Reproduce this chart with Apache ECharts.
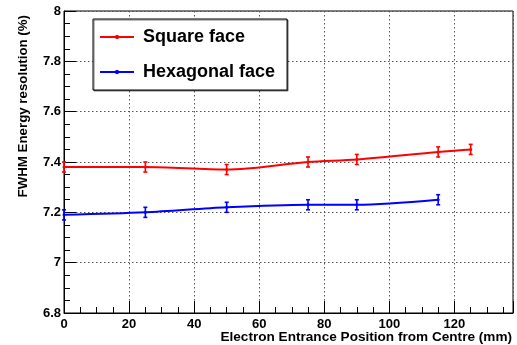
<!DOCTYPE html>
<html><head><meta charset="utf-8">
<script src="https://cdn.jsdelivr.net/npm/echarts@6/dist/echarts.min.js"></script>
<style>html,body{margin:0;padding:0;background:#fff}#c{width:517px;height:345px}</style>
</head><body><div id="c"></div>
<script>
var positions = [0, 25, 50, 75, 90, 115, 125];
var squareVals = [7.38, 7.38, 7.37, 7.40, 7.41, 7.44, 7.45];
var squareErr = [0.02, 0.02, 0.02, 0.02, 0.02, 0.02, 0.02];
var hexPositions = [0, 25, 50, 75, 90, 115];
var hexVals = [7.19, 7.20, 7.22, 7.23, 7.23, 7.25];
var hexErr = [0.02, 0.02, 0.02, 0.02, 0.02, 0.02];
var seriesNames = ['Square face', 'Hexagonal face'];
var xTitle = 'Electron Entrance Position from Centre (mm)';
var yTitle = 'FWHM Energy resolution (%)';

var font = 'Liberation Sans, Arial, Helvetica, sans-serif';
function pairs(xs, ys){ return xs.map(function(x,i){ return [x, ys[i]]; }); }
function errData(xs, ys, es){ return xs.map(function(x,i){ return [x, ys[i]-es[i], ys[i]+es[i]]; }); }
function errSeries(data, color){
  return {
    type: 'custom', data: data, silent: true, z: 4,
    renderItem: function(params, api){
      var lo = api.coord([api.value(0), api.value(1)]);
      var hi = api.coord([api.value(0), api.value(2)]);
      var w = 2;
      var st = {stroke: color, lineWidth: 1.6};
      return {type: 'group', children: [
        {type:'line', shape:{x1:lo[0],y1:lo[1],x2:hi[0],y2:hi[1]}, style: st},
        {type:'line', shape:{x1:lo[0]-w,y1:lo[1],x2:lo[0]+w,y2:lo[1]}, style: st},
        {type:'line', shape:{x1:hi[0]-w,y1:hi[1],x2:hi[0]+w,y2:hi[1]}, style: st}
      ]};
    },
    encode: {x: 0, y: [1, 2]}
  };
}
var legendIcon = 'path://M0,1.1 L34,1.1 L34,2.9 L0,2.9 Z M15.5,0 L18.5,0 L18.5,4 L15.5,4 Z';
var chart = echarts.init(document.getElementById('c'));
var gridSplit = {show: true, lineStyle: {color: '#555', type: [1.5, 2.5], width: 1}};
chart.setOption({
  animation: false,
  grid: {left: 64, right: 4, top: 11, bottom: 32, show: true, borderColor: '#000', borderWidth: 1, backgroundColor: 'transparent'},
  legend: {
    left: 93, top: 19, orient: 'vertical',
    data: [{name: seriesNames[0], icon: legendIcon}, {name: seriesNames[1], icon: legendIcon}],
    borderColor: '#000', borderWidth: 1, padding: [8, 12, 8, 7],
    itemWidth: 34, itemHeight: 4, itemGap: 15,
    textStyle: {fontFamily: font, fontWeight: 'bold', fontSize: 18, color: '#000', padding: [0,0,0,4], lineHeight: 20},
    backgroundColor: '#fff',
    shadowColor: 'rgba(0,0,0,0.5)', shadowOffsetX: 1, shadowOffsetY: 1, shadowBlur: 0
  },
  xAxis: [{
    type: 'value', min: 0, max: 138, interval: 5,
    axisLine: {show: true, lineStyle: {color: '#000'}},
    axisTick: {show: true, inside: true, length: 6, lineStyle: {color: '#000'}},
    axisLabel: {fontFamily: font, fontWeight: 'bold', fontSize: 13, color: '#000', margin: 5,
      formatter: function(v){ return (v % 20 === 0) ? String(v) : ''; }, showMaxLabel: false},
    splitLine: {show: false}
  }, {
    type: 'value', min: 0, max: 138, interval: 20, position: 'bottom',
    axisLine: {show: false},
    axisTick: {show: true, inside: true, length: 12, lineStyle: {color: '#000'}},
    axisLabel: {show: false},
    splitLine: gridSplit
  }],
  yAxis: {
    type: 'value', min: 6.8, max: 8, interval: 0.2,
    axisLine: {show: true, lineStyle: {color: '#000'}},
    axisTick: {show: true, inside: true, length: 12, lineStyle: {color: '#000'}},
    minorTick: {show: true, splitNumber: 4, length: 6, lineStyle: {color: '#000'}},
    axisLabel: {fontFamily: font, fontWeight: 'bold', fontSize: 13, color: '#000', margin: 3,
      formatter: function(v){ return String(Math.round(v*10)/10); }},
    splitLine: gridSplit
  },
  series: [
    {name: seriesNames[0], type: 'line', data: pairs(positions, squareVals), smooth: 0.3,
     symbol: 'circle', symbolSize: 3, showSymbol: true, itemStyle: {color: '#ff0000'},
     lineStyle: {color: '#ff0000', width: 2}, z: 5},
    {name: seriesNames[1], type: 'line', data: pairs(hexPositions, hexVals), smooth: 0.3,
     symbol: 'circle', symbolSize: 3, showSymbol: true, itemStyle: {color: '#0000ff'},
     lineStyle: {color: '#0000ff', width: 2}, z: 5},
    errSeries(errData(positions, squareVals, squareErr), '#ff0000'),
    errSeries(errData(hexPositions, hexVals, hexErr), '#0000ff')
  ],
  graphic: [
    {type: 'text', right: 5, top: 330, style: {text: xTitle, font: 'bold 13.6px ' + font, fill: '#000'}},
    {type: 'text', x: 23, y: 15, rotation: Math.PI/2,
     style: {text: yTitle, font: 'bold 13.3px ' + font, fill: '#000', align: 'right', verticalAlign: 'middle'}}
  ]
});
</script></body></html>
